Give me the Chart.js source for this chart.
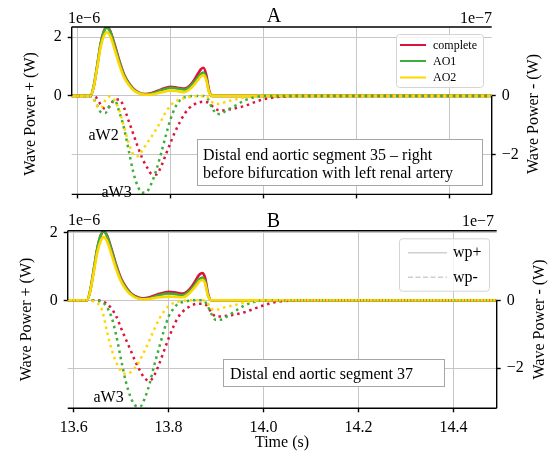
<!DOCTYPE html>
<html>
<head>
<meta charset="utf-8">
<script src="https://cdn.jsdelivr.net/npm/chart.js@4.4.0/dist/chart.umd.min.js"></script>
<style>
  html, body { margin: 0; padding: 0; background: #fff; }
  #marco { position: relative; width: 552px; height: 456px; overflow: hidden; }
  canvas { position: absolute; left: 0; }
</style>
</head>
<body>
<div id="marco">
  <canvas id="graficoA" width="552" height="210" style="top:0px"></canvas>
  <canvas id="graficoB" width="552" height="246" style="top:210px"></canvas>
</div>
<script>
// ---- datos ----
// tiempos (s) de las curvas positivas (lineas solidas) y negativas (punteadas)
var tiempoPos = [13.585, 13.628, 13.635, 13.642, 13.65, 13.657, 13.663, 13.67, 13.68, 13.69, 13.70, 13.71, 13.72, 13.73, 13.745,
                 13.76, 13.78, 13.80, 13.815, 13.83, 13.84, 13.85, 13.86, 13.865, 13.871, 13.877, 13.883, 13.89, 14.0, 14.491];
var tiempoNeg = [13.585, 13.63, 13.64, 13.65, 13.66, 13.67, 13.68, 13.69, 13.70, 13.71, 13.72, 13.73, 13.74, 13.75, 13.76, 13.77,
                 13.78, 13.79, 13.80, 13.81, 13.82, 13.83, 13.84, 13.85, 13.86, 13.87, 13.88, 13.89, 13.90, 13.91, 13.92, 13.94,
                 13.96, 13.98, 14.0, 14.03, 14.1, 14.491];
var ticksTiempo = [13.6, 13.8, 14.0, 14.2, 14.4];
var ticksPos = [0, 2];    // eje izquierdo, x 1e-6 W
var ticksNeg = [-2, 0];   // eje derecho, x 1e-7 W
var series = ['complete', 'AO1', 'AO2'];

// Panel A - wave power + (x 1e-6 W)
var posA_complete = [0, 0, 0.33, 0.98, 1.8, 2.22, 2.36, 2.23, 1.75, 1.2, 0.74, 0.45, 0.25, 0.13, 0.06, 0.1, 0.22, 0.31, 0.28, 0.25, 0.33, 0.52, 0.78, 0.9, 0.96, 0.72, 0.2, 0, 0, 0];
var posA_AO1 = [0, 0, 0.35, 1.0, 1.8, 2.2, 2.33, 2.2, 1.7, 1.15, 0.7, 0.42, 0.23, 0.12, 0.05, 0.08, 0.19, 0.28, 0.25, 0.21, 0.29, 0.45, 0.65, 0.75, 0.8, 0.6, 0.15, 0, 0, 0];
var posA_AO2 = [0, 0, 0.32, 0.93, 1.68, 2.05, 2.17, 2.05, 1.58, 1.06, 0.64, 0.38, 0.2, 0.1, 0.04, 0.05, 0.12, 0.18, 0.16, 0.13, 0.21, 0.36, 0.56, 0.66, 0.71, 0.54, 0.13, 0, 0, 0];
// Panel A - wave power - (x 1e-7 W)
var negA_complete = [0, 0, -0.05, -0.3, -0.45, -0.35, -0.12, -0.12, -0.4, -0.85, -1.3, -1.75, -2.15, -2.45, -2.67, -2.68, -2.4, -2.0, -1.6, -1.22,
                     -0.9, -0.62, -0.42, -0.3, -0.23, -0.2, -0.22, -0.35, -0.47, -0.5, -0.48, -0.42, -0.34, -0.22, -0.12, -0.04, 0, 0];
var negA_AO1 = [0, 0, -0.25, -0.55, -0.58, -0.3, -0.15, -0.55, -1.1, -1.85, -2.6, -3.1, -3.3, -3.25, -2.95, -2.5, -1.95, -1.35, -0.8, -0.4,
                -0.15, -0.05, -0.02, 0, 0, 0, -0.1, -0.42, -0.62, -0.6, -0.5, -0.33, -0.15, -0.05, 0, 0, 0, 0];
var negA_AO2 = [0, 0, -0.3, -0.42, -0.15, -0.02, -0.15, -0.5, -1.05, -1.6, -2.0, -2.06, -1.85, -1.6, -1.37, -1.12, -0.85, -0.55, -0.33, -0.2,
                -0.12, -0.07, -0.04, -0.02, 0, 0, -0.05, -0.22, -0.28, -0.25, -0.2, -0.12, -0.05, -0.02, 0, 0, 0, 0];

// Panel B - wave power + (x 1e-6 W)
var posB_complete = [0, 0, 0.28, 0.86, 1.53, 1.9, 2.03, 1.92, 1.5, 1.03, 0.64, 0.39, 0.22, 0.12, 0.06, 0.09, 0.19, 0.25, 0.23, 0.2, 0.27, 0.43, 0.66, 0.76, 0.8, 0.66, 0.2, 0, 0, 0];
var posB_AO1 = [0, 0, 0.3, 0.88, 1.55, 1.92, 2.04, 1.9, 1.45, 0.98, 0.6, 0.36, 0.2, 0.1, 0.04, 0.06, 0.15, 0.2, 0.18, 0.15, 0.22, 0.36, 0.55, 0.63, 0.67, 0.55, 0.15, 0, 0, 0];
var posB_AO2 = [0, 0, 0.27, 0.8, 1.42, 1.75, 1.86, 1.75, 1.34, 0.9, 0.55, 0.32, 0.17, 0.08, 0.03, 0.04, 0.09, 0.11, 0.1, 0.09, 0.16, 0.3, 0.47, 0.56, 0.6, 0.5, 0.13, 0, 0, 0];
// Panel B - wave power - (x 1e-7 W)
var negB_complete = [0, 0, 0, 0, -0.03, -0.1, -0.25, -0.48, -0.82, -1.15, -1.47, -1.8, -2.08, -2.3, -2.37, -2.2, -1.88, -1.5, -1.12, -0.78,
                     -0.5, -0.33, -0.22, -0.14, -0.1, -0.1, -0.15, -0.35, -0.48, -0.48, -0.46, -0.42, -0.35, -0.25, -0.15, -0.04, 0, 0];
var negB_AO1 = [0, 0, 0, -0.02, -0.05, -0.2, -0.5, -1.05, -1.75, -2.4, -2.85, -3.1, -3.13, -2.88, -2.45, -1.9, -1.4, -0.9, -0.48, -0.25,
                -0.1, -0.05, -0.02, 0, 0, 0, -0.1, -0.4, -0.58, -0.57, -0.5, -0.32, -0.15, -0.05, 0, 0, 0, 0];
var negB_AO2 = [0, 0, -0.02, -0.08, -0.3, -0.9, -1.45, -1.83, -2.08, -2.17, -2.12, -1.97, -1.75, -1.47, -1.17, -0.85, -0.55, -0.33, -0.17, -0.08,
                -0.04, -0.02, 0, 0, 0, 0, -0.05, -0.25, -0.29, -0.24, -0.2, -0.14, -0.06, -0.02, 0, 0, 0, 0];

// ---- estilos ----
var serif = '"Liberation Serif", "Times New Roman", serif';
var colores = { complete: '#dc143c', AO1: '#3cae3c', AO2: '#ffd700' };
var colorGrid = '#c6c6c6';
var xMin = 13.5875, xMax = 14.491;

function puntos(tiempos, valores) {
    return valores.map(function (v, i) { return { x: tiempos[i], y: v }; });
}

function etiquetaY(v) {
    return v < 0 ? '\u2212' + (-v) : String(v);
}

// arma los 6 datasets de un panel: solidas en el eje izquierdo, punteadas en el derecho
function armarDatasets(pos, neg) {
    var sets = [];
    series.forEach(function (nombre, i) {
        sets.push({
            label: nombre + ' wp+',
            data: puntos(tiempoPos, pos[i]),
            yAxisID: 'y',
            borderColor: colores[nombre],
            borderWidth: 2.6,
            cubicInterpolationMode: 'monotone',
            pointRadius: 0,
            order: 6 - i
        });
    });
    series.forEach(function (nombre, i) {
        sets.push({
            label: nombre + ' wp-',
            data: puntos(tiempoNeg, neg[i]),
            yAxisID: 'y1',
            borderColor: colores[nombre],
            borderWidth: 2.5,
            borderDash: [2.5, 3.8],
            cubicInterpolationMode: 'monotone',
            pointRadius: 0,
            order: 3 - i
        });
    });
    return sets;
}

// dibuja bordes, textos, leyenda y recuadro de cada panel
function decoracion(p) {
    return {
        id: 'decoracion',
        afterDraw: function (chart) {
            var c = chart.ctx;
            var a = chart.chartArea;
            var y0 = chart.scales.y.getPixelForValue(0);
            c.save();

            // bordes (izq. solo la parte positiva, der. solo la negativa)
            c.strokeStyle = '#000';
            c.lineWidth = 1.4;
            c.beginPath();
            c.moveTo(a.left, a.top); c.lineTo(a.right, a.top);
            c.moveTo(a.left, a.bottom); c.lineTo(a.right, a.bottom);
            c.moveTo(a.left, a.top); c.lineTo(a.left, y0);
            c.moveTo(a.right, y0); c.lineTo(a.right, a.bottom);
            c.stroke();

            c.fillStyle = '#000';
            c.textBaseline = 'alphabetic';
            c.font = '16px ' + serif;
            c.textAlign = 'left';
            c.fillText('1e\u22126', p.offIzq[0], p.offIzq[1]);
            c.textAlign = 'right';
            c.fillText('1e\u22127', p.offDer[0], p.offDer[1]);

            c.font = '20px ' + serif;
            c.textAlign = 'center';
            c.fillText(p.titulo, p.posTitulo[0], p.posTitulo[1]);

            // titulos de ejes Y (ambos se leen de abajo hacia arriba)
            c.font = '16px ' + serif;
            c.textBaseline = 'middle';
            [[p.tituloIzq, 'Wave Power + (W)'], [p.tituloDer, 'Wave Power - (W)']].forEach(function (t) {
                c.save();
                c.translate(t[0][0], t[0][1]);
                c.rotate(-Math.PI / 2);
                c.fillText(t[1], 0, 0);
                c.restore();
            });
            if (p.tituloX) {
                c.textBaseline = 'alphabetic';
                c.fillText('Time (s)', p.tituloX[0], p.tituloX[1]);
            }

            // anotaciones de ondas
            c.textAlign = 'left';
            c.textBaseline = 'alphabetic';
            p.notas.forEach(function (n) { c.fillText(n[0], n[1], n[2]); });

            // recuadro de texto
            var r = p.recuadro;
            c.fillStyle = '#fff';
            c.fillRect(r.x0, r.y0, r.x1 - r.x0, r.y1 - r.y0);
            c.strokeStyle = '#a6a6a6';
            c.lineWidth = 1;
            c.strokeRect(r.x0 + 0.5, r.y0 + 0.5, r.x1 - r.x0, r.y1 - r.y0);
            c.fillStyle = '#000';
            r.lineas.forEach(function (l) { c.fillText(l[0], r.tx, l[1]); });

            // leyenda
            var L = p.leyenda;
            c.fillStyle = 'rgba(255,255,255,0.8)';
            c.strokeStyle = '#d4d4d4';
            c.beginPath();
            c.roundRect(L.x0 + 0.5, L.y0 + 0.5, L.x1 - L.x0, L.y1 - L.y0, 3);
            c.fill();
            c.stroke();
            c.font = L.tam + 'px ' + serif;
            c.textBaseline = 'middle';
            L.items.forEach(function (it) {
                c.strokeStyle = it.color;
                c.lineWidth = it.ancho;
                c.setLineDash(it.dash || []);
                c.beginPath();
                c.moveTo(L.lx0, it.y); c.lineTo(L.lx1, it.y);
                c.stroke();
                c.setLineDash([]);
                c.fillStyle = '#000';
                c.fillText(it.texto, L.tx, it.y + 0.5);
            });
            c.restore();
        }
    };
}

function construirPanel(idCanvas, pos, neg, p) {
    var ctx = document.getElementById(idCanvas).getContext('2d');
    var fuenteTicks = { family: serif, size: 16 };
    return new Chart(ctx, {
        type: 'line',
        data: { datasets: armarDatasets(pos, neg) },
        options: {
            responsive: false,
            animation: false,
            devicePixelRatio: 1,
            layout: { padding: { top: p.arriba, left: 0, right: 0, bottom: 0 } },
            plugins: { legend: { display: false }, tooltip: { enabled: false } },
            scales: {
                x: {
                    type: 'linear', min: xMin, max: xMax,
                    afterBuildTicks: function (s) { s.ticks = ticksTiempo.map(function (v) { return { value: v }; }); },
                    afterFit: function (s) { s.height = p.altoX; },
                    ticks: { display: p.verX, autoSkip: false, maxRotation: 0, padding: 6, color: '#000', font: fuenteTicks,
                             callback: function (v) { return v.toFixed(1); } },
                    grid: { color: colorGrid, lineWidth: 1, tickColor: '#000', tickLength: 4, tickWidth: 1.4 },
                    border: { display: false }
                },
                y: {
                    position: 'left', min: p.yMin, max: p.yMax,
                    afterBuildTicks: function (s) { s.ticks = ticksPos.map(function (v) { return { value: v }; }); },
                    afterFit: function (s) { s.width = p.anchoIzq; },
                    ticks: { padding: 6, color: '#000', font: fuenteTicks, callback: etiquetaY },
                    grid: { color: colorGrid, lineWidth: 1, tickColor: '#000', tickLength: 4, tickWidth: 1.4 },
                    border: { display: false }
                },
                y1: {
                    position: 'right', min: p.yMin, max: p.yMax,
                    afterBuildTicks: function (s) { s.ticks = ticksNeg.map(function (v) { return { value: v }; }); },
                    afterFit: function (s) { s.width = p.anchoDer; },
                    ticks: { padding: 6, color: '#000', font: fuenteTicks, callback: etiquetaY },
                    grid: { color: colorGrid, lineWidth: 1, tickColor: '#000', tickLength: 4, tickWidth: 1.4 },
                    border: { display: false }
                }
            }
        },
        plugins: [decoracion(p)]
    });
}

// Panel A
var graficoA = construirPanel('graficoA', [posA_complete, posA_AO1, posA_AO2], [negA_complete, negA_AO1, negA_AO2], {
    arriba: 27, anchoIzq: 71.7, anchoDer: 60.3, altoX: 8.3, verX: false,
    yMin: -3.36, yMax: 2.35,
    offIzq: [68, 23], offDer: [492, 23], titulo: 'A', posTitulo: [274, 22],
    tituloIzq: [31, 114], tituloDer: [534, 114], tituloX: null,
    notas: [['aW2', 88.5, 140], ['aW3', 101.5, 196.5]],
    recuadro: { x0: 197, y0: 139, x1: 482, y1: 185, tx: 203,
                lineas: [['Distal end aortic segment 35 \u2013 right', 159.5], ['before bifurcation with left renal artery', 178]] },
    leyenda: { x0: 396, y0: 34, x1: 483, y1: 87, lx0: 400, lx1: 426, tx: 433, tam: 12,
               items: [{ texto: 'complete', color: colores.complete, ancho: 2, y: 45 },
                       { texto: 'AO1', color: colores.AO1, ancho: 2, y: 61 },
                       { texto: 'AO2', color: colores.AO2, ancho: 2, y: 77.5 }] }
});

// Panel B (coordenadas relativas al canvas que empieza en y=210)
var graficoB = construirPanel('graficoB', [posB_complete, posB_AO1, posB_AO2], [negB_complete, negB_AO1, negB_AO2], {
    arriba: 20.7, anchoIzq: 67.7, anchoDer: 55.3, altoX: 47.7, verX: true,
    yMin: -3.18, yMax: 2.05,
    offIzq: [68, 15], offDer: [494, 16], titulo: 'B', posTitulo: [273.5, 16.5],
    tituloIzq: [27, 109.5], tituloDer: [539.5, 109.5], tituloX: [282, 237],
    notas: [['aW3', 93.5, 191.5]],
    recuadro: { x0: 223, y0: 149, x1: 444, y1: 176, tx: 230,
                lineas: [['Distal end aortic segment 37', 169.3]] },
    leyenda: { x0: 399, y0: 28.3, x1: 489, y1: 80.7, lx0: 408, lx1: 447, tx: 453, tam: 16,
               items: [{ texto: 'wp+', color: '#cfcfcf', ancho: 1.6, y: 42.7 },
                       { texto: 'wp-', color: '#cfcfcf', ancho: 1.6, y: 67.3, dash: [5, 2.5] }] }
});
</script>
</body>
</html>
